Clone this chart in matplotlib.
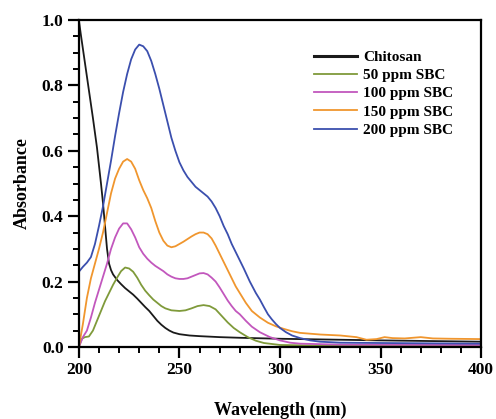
"""UV-Vis absorbance spectra of chitosan and SBC solutions."""
import matplotlib
matplotlib.use('Agg')
import matplotlib.pyplot as plt
from matplotlib.ticker import MultipleLocator

# Chitosan
chitosan_wl = [200, 201, 203, 205, 207, 209, 211, 212, 213, 214, 215, 216, 217,
               219, 221, 223, 225, 227, 229, 231, 233, 235, 237, 239, 241, 243,
               245, 247, 250, 255, 260, 270, 280, 300, 350, 400]
chitosan_abs = [1.0, 0.955, 0.87, 0.785, 0.70, 0.61, 0.50, 0.44, 0.37, 0.30,
                0.255, 0.235, 0.222, 0.205, 0.192, 0.18, 0.17, 0.16, 0.148, 0.135,
                0.122, 0.11, 0.095, 0.08, 0.068, 0.058, 0.05, 0.044, 0.039, 0.035,
                0.033, 0.03, 0.028, 0.025, 0.02, 0.016]

# 50 ppm SBC
sbc50_wl = [200, 201.5, 203, 205, 207, 209, 211, 213, 215, 217, 219, 221, 223,
            225, 227, 229, 231, 233, 235, 237, 239, 241, 243, 246, 250, 253, 256,
            259, 262, 265, 268, 271, 274, 277, 280, 284, 288, 292, 300, 320, 400]
sbc50_abs = [0.0, 0.025, 0.03, 0.032, 0.05, 0.08, 0.11, 0.14, 0.165, 0.19, 0.212,
             0.232, 0.243, 0.24, 0.23, 0.212, 0.19, 0.172, 0.158, 0.145, 0.135,
             0.125, 0.118, 0.112, 0.11, 0.112, 0.118, 0.125, 0.128, 0.125, 0.115,
             0.095, 0.075, 0.058, 0.045, 0.03, 0.019, 0.012, 0.006, 0.004, 0.003]

# 100 ppm SBC
sbc100_wl = [200, 202, 204, 206, 208, 210, 212, 214, 216, 218, 220, 222, 224,
             226, 228, 230, 232, 234, 236, 238, 240, 242, 244, 246, 248, 250, 252,
             254, 256, 258, 260, 262, 264, 266, 268, 270, 272, 274, 276, 278, 280,
             283, 286, 290, 295, 300, 305, 310, 330, 400]
sbc100_abs = [0.0, 0.03, 0.05, 0.09, 0.135, 0.175, 0.215, 0.255, 0.30, 0.335,
              0.362, 0.378, 0.378, 0.36, 0.335, 0.305, 0.285, 0.27, 0.258, 0.248,
              0.24, 0.232, 0.222, 0.215, 0.21, 0.208, 0.208, 0.21, 0.215, 0.22,
              0.225, 0.226, 0.222, 0.212, 0.20, 0.182, 0.162, 0.142, 0.125, 0.11,
              0.10, 0.08, 0.062, 0.045, 0.03, 0.02, 0.013, 0.01, 0.007, 0.006]

# 150 ppm SBC
sbc150_wl = [200, 202, 204, 206, 208, 210, 212, 214, 216, 218, 220, 222, 224,
             226, 228, 230, 232, 234, 236, 238, 240, 242, 244, 246, 248, 250, 252,
             254, 256, 258, 260, 262, 264, 266, 268, 270, 272, 274, 276, 278, 280,
             283, 286, 290, 294, 298, 302, 306, 310, 320, 330, 338, 343, 348, 352,
             356, 362, 370, 376, 385, 400]
sbc150_abs = [0.0, 0.07, 0.15, 0.21, 0.255, 0.30, 0.35, 0.41, 0.47, 0.515, 0.545,
              0.567, 0.575, 0.567, 0.545, 0.51, 0.48, 0.455, 0.425, 0.385, 0.35,
              0.325, 0.31, 0.305, 0.308, 0.315, 0.322, 0.33, 0.338, 0.345, 0.35,
              0.35, 0.345, 0.332, 0.31, 0.285, 0.26, 0.235, 0.21, 0.185, 0.165,
              0.135, 0.11, 0.09, 0.074, 0.063, 0.055, 0.048, 0.043, 0.038, 0.035,
              0.03, 0.022, 0.024, 0.03, 0.027, 0.026, 0.03, 0.026, 0.025, 0.024]

# 200 ppm SBC
sbc200_wl = [200, 202, 204, 206, 208, 210, 212, 214, 216, 218, 220, 222, 224,
             226, 228, 230, 232, 234, 236, 238, 240, 242, 244, 246, 248, 250, 252,
             254, 256, 258, 260, 262, 264, 266, 268, 270, 272, 274, 276, 278, 280,
             282, 285, 288, 290, 292, 294, 296, 298, 300, 303, 306, 310, 315, 320,
             330, 350, 400]
sbc200_abs = [0.23, 0.245, 0.258, 0.275, 0.315, 0.37, 0.43, 0.50, 0.57, 0.645,
              0.715, 0.78, 0.835, 0.88, 0.91, 0.925, 0.92, 0.905, 0.875, 0.835,
              0.79, 0.74, 0.69, 0.64, 0.60, 0.565, 0.54, 0.52, 0.505, 0.49, 0.48,
              0.47, 0.46, 0.445, 0.425, 0.40, 0.37, 0.345, 0.315, 0.29, 0.265,
              0.24, 0.20, 0.165, 0.145, 0.122, 0.10, 0.084, 0.07, 0.058, 0.045,
              0.035, 0.027, 0.02, 0.016, 0.013, 0.012, 0.01]

plt.rcParams['font.family'] = ['Liberation Serif', 'DejaVu Serif']
plt.rcParams['font.weight'] = 'bold'

fig = plt.figure(figsize=(4.96, 4.19), dpi=100)
ax = fig.add_axes([0.159, 0.172, 0.811, 0.780])

line_kw = dict(linewidth=1.3, solid_joinstyle='round')
ax.plot(chitosan_wl, chitosan_abs, color='#1a1a1a', label='Chitosan', **line_kw)
ax.plot(sbc50_wl, sbc50_abs, color='#7f9a3a', label='50 ppm SBC', **line_kw)
ax.plot(sbc100_wl, sbc100_abs, color='#c257bd', label='100 ppm SBC', **line_kw)
ax.plot(sbc150_wl, sbc150_abs, color='#f0962e', label='150 ppm SBC', **line_kw)
ax.plot(sbc200_wl, sbc200_abs, color='#3b4fae', label='200 ppm SBC', **line_kw)

ax.set_xlim(200, 400)
ax.set_ylim(0, 1.0)
ax.xaxis.set_major_locator(MultipleLocator(50))
ax.xaxis.set_minor_locator(MultipleLocator(10))
ax.yaxis.set_major_locator(MultipleLocator(0.2))
ax.yaxis.set_minor_locator(MultipleLocator(0.05))
ax.yaxis.set_major_formatter(plt.FormatStrFormatter('%.1f'))

ax.tick_params(which='major', direction='out', length=8, width=1.6,
               labelsize=12.5, top=False, right=False, pad=3)
ax.tick_params(which='minor', direction='out', length=4.5, width=1.4,
               top=False, right=False)
for spine in ax.spines.values():
    spine.set_linewidth(1.6)

ax.set_xlabel('Wavelength (nm)', fontsize=13, fontweight='bold', labelpad=17)
ax.set_ylabel('Absorbance', fontsize=13, fontweight='bold', labelpad=8)

leg = ax.legend(loc='upper right', bbox_to_anchor=(0.965, 0.95), frameon=False,
                fontsize=11, handlelength=2.8, labelspacing=0.3,
                handletextpad=0.4)
leg.get_lines()[0].set_linewidth(2.2)

fig.savefig('out.png', dpi=100, facecolor='white')
